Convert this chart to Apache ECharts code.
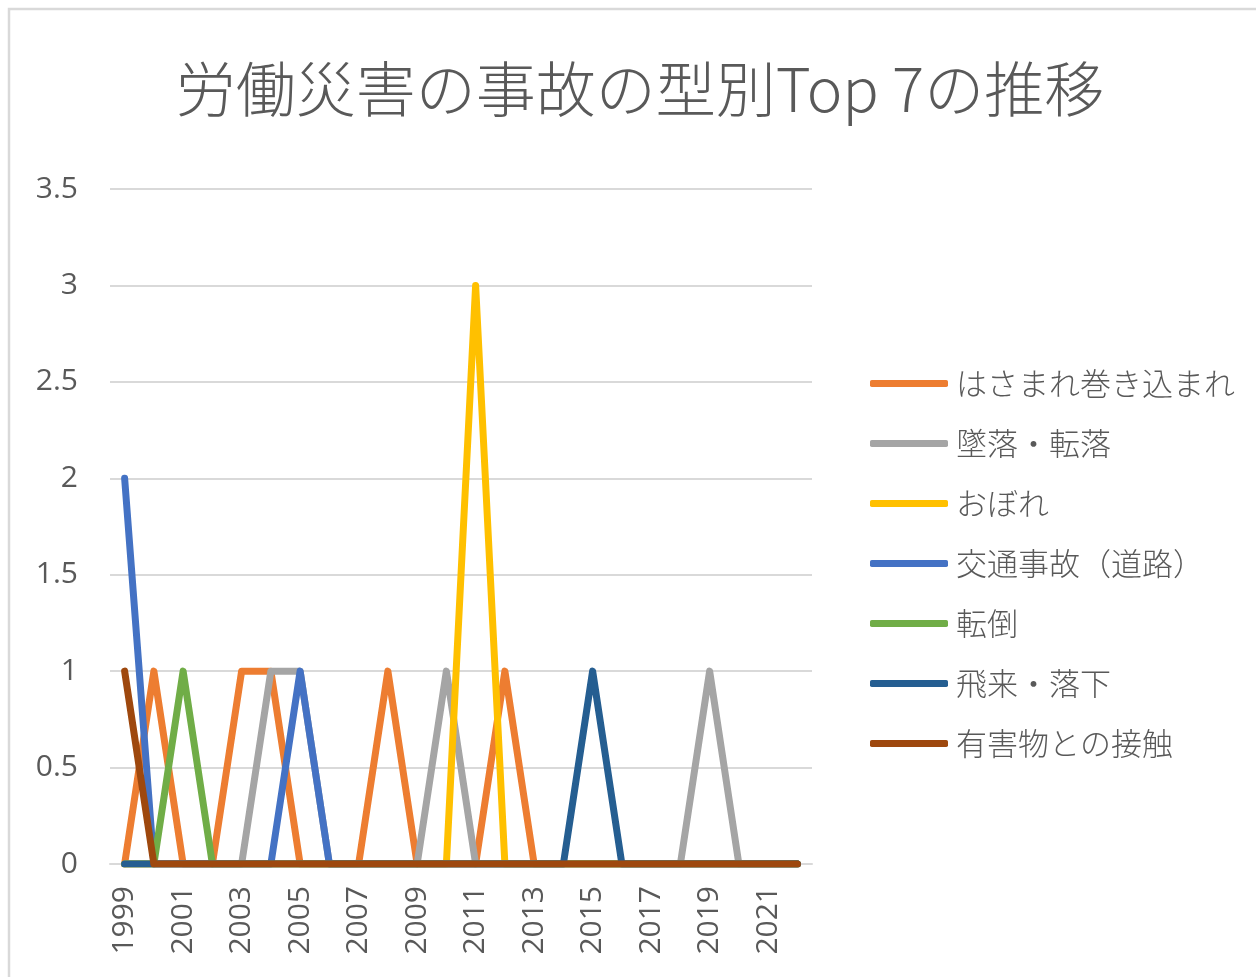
<!DOCTYPE html>
<html>
<head>
<meta charset="utf-8">
<script src="https://cdn.jsdelivr.net/npm/echarts@6/dist/echarts.min.js"></script>
<style>
  html, body { margin: 0; padding: 0; background: #fff; }
  #chart { width: 1256px; height: 977px; }
</style>
</head>
<body>
<div id="chart"></div>
<script>
  // 年
  var years = ['1999','2000','2001','2002','2003','2004','2005','2006','2007','2008','2009','2010',
               '2011','2012','2013','2014','2015','2016','2017','2018','2019','2020','2021','2022']
  var seriesNames = ['はさまれ巻き込まれ','墜落・転落','おぼれ','交通事故（道路）','転倒','飛来・落下','有害物との接触']
  var hasamare = [0,1,0,0,1,1,0,0,0,1,0,0,0,1,0,0,0,0,0,0,0,0,0,0]
  var tsuiraku = [0,0,0,0,0,1,1,0,0,0,0,1,0,0,0,0,0,0,0,0,1,0,0,0]
  var obore    = [0,0,0,0,0,0,0,0,0,0,0,0,3,0,0,0,0,0,0,0,0,0,0,0]
  var koutsuu  = [2,0,0,0,0,0,1,0,0,0,0,0,0,0,0,0,0,0,0,0,0,0,0,0]
  var tentou   = [0,0,1,0,0,0,0,0,0,0,0,0,0,0,0,0,0,0,0,0,0,0,0,0]
  var hirai    = [0,0,0,0,0,0,0,0,0,0,0,0,0,0,0,0,1,0,0,0,0,0,0,0]
  var yuugai   = [1,0,0,0,0,0,0,0,0,0,0,0,0,0,0,0,0,0,0,0,0,0,0,0]
  var yTicks = [0, 0.5, 1, 1.5, 2, 2.5, 3, 3.5]

  var seriesData = [hasamare, tsuiraku, obore, koutsuu, tentou, hirai, yuugai]
  var colorArr = ['#ED7D31','#A5A5A5','#FFC000','#4472C4','#70AD47','#255E91','#9E480E']

  var chart = echarts.init(document.getElementById('chart'))
  var seriesTemp = []
  for (var i = 0; i < seriesNames.length; i++) {
    seriesTemp.push({
      name: seriesNames[i],
      type: 'line',
      data: seriesData[i],
      symbol: 'none',
      animation: false,
      lineStyle: { width: 7, color: colorArr[i], cap: 'round', join: 'round' },
      itemStyle: { color: colorArr[i] }
    })
  }

  chart.setOption({
    color: colorArr,
    graphic: [{
      type: 'rect',
      shape: { x: 9, y: 9, width: 1300, height: 1020 },
      style: { fill: 'none', stroke: '#d9d9d9', lineWidth: 2.5 },
      silent: true
    }],
    title: {
      text: '労働災害の事故の型別Top 7の推移',
      left: 635,
      top: 54,
      textAlign: 'center',
      textStyle: {
        fontFamily: 'Noto Sans CJK JP',
        fontSize: 60,
        fontWeight: 300,
        color: '#595959'
      }
    },
    legend: {
      orient: 'vertical',
      left: 870,
      top: 368,
      padding: 0,
      itemWidth: 78,
      itemHeight: 7,
      itemGap: 29,
      icon: 'roundRect',
      textStyle: {
        fontFamily: 'Noto Sans CJK JP',
        fontSize: 31,
        fontWeight: 300,
        lineHeight: 30,
        color: '#595959',
        padding: [0, 0, 0, 3]
      },
      data: seriesNames
    },
    grid: {
      left: 110,
      right: 444,
      top: 189,
      bottom: 113
    },
    xAxis: {
      type: 'category',
      data: years,
      boundaryGap: true,
      axisLine: { show: true, lineStyle: { color: '#d9d9d9', width: 2 } },
      axisTick: { show: false },
      axisLabel: {
        rotate: 90,
        interval: 1,
        margin: 22,
        fontFamily: 'Open Sans',
        fontSize: 30,
        color: '#595959'
      }
    },
    yAxis: {
      type: 'value',
      min: yTicks[0],
      max: yTicks[yTicks.length - 1],
      interval: 0.5,
      axisLine: { show: false },
      axisTick: { show: false },
      splitLine: { lineStyle: { color: '#d9d9d9', width: 2 } },
      axisLabel: {
        margin: 32,
        fontFamily: 'Open Sans',
        fontSize: 30,
        color: '#595959'
      }
    },
    series: seriesTemp
  })
</script>
</body>
</html>
